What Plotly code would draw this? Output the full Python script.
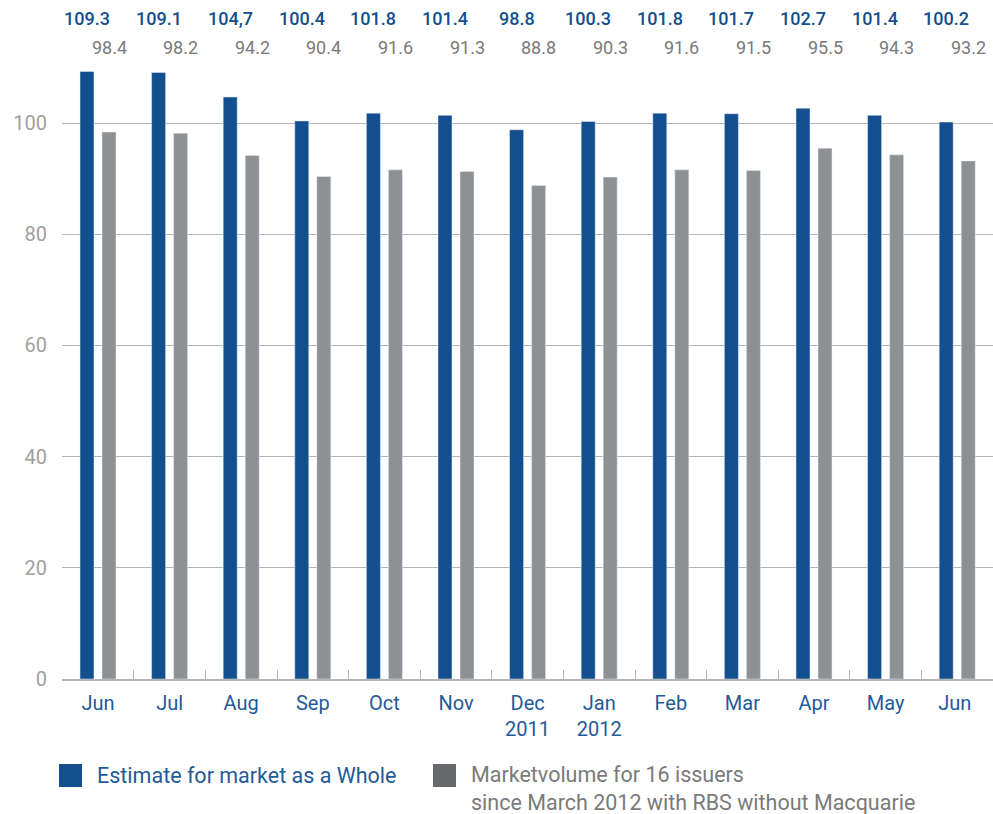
import plotly.graph_objects as go

months = ["Jun", "Jul", "Aug", "Sep", "Oct", "Nov", "Dec<br>2011", "Jan<br>2012",
          "Feb", "Mar", "Apr", "May", "Jun "]
market_whole = [109.3, 109.1, 104.7, 100.4, 101.8, 101.4, 98.8, 100.3, 101.8, 101.7, 102.7, 101.4, 100.2]
market_whole_labels = ["109.3", "109.1", "104,7", "100.4", "101.8", "101.4", "98.8", "100.3",
                       "101.8", "101.7", "102.7", "101.4", "100.2"]
issuers16 = [98.4, 98.2, 94.2, 90.4, 91.6, 91.3, 88.8, 90.3, 91.6, 91.5, 95.5, 94.3, 93.2]
y_ticks = [0, 20, 40, 60, 80, 100]

BLUE = "#134e8e"
GRAY = "#8f9094"
LEG_GRAY = "#67686c"
FONT = "Roboto"

fig = go.Figure()
fig.add_trace(go.Bar(x=months, y=market_whole, marker_color=BLUE, name="Estimate for market as a Whole"))
fig.add_trace(go.Bar(x=months, y=issuers16, marker_color=GRAY, name="Marketvolume for 16 issuers"))

ann = []
for m, v, lab in zip(months, market_whole, market_whole_labels):
    ann.append(dict(x=m, y=1.071, xref="x", yref="paper", text=lab, showarrow=False,
                    xshift=-11, yanchor="middle", xanchor="center",
                    font=dict(family=FONT, size=18, color=BLUE, weight=500)))
for m, v in zip(months, issuers16):
    ann.append(dict(x=m, y=1.0227, xref="x", yref="paper", text=f"{v:.1f}", showarrow=False,
                    xshift=11, yanchor="middle", xanchor="center",
                    font=dict(family=FONT, size=18, color="#7a7a7a")))

# legend (drawn manually for large swatches)
ann.append(dict(x=0.0354, y=-0.1556, xref="paper", yref="paper", text="Estimate for market as a Whole",
                showarrow=False, xanchor="left", yanchor="middle",
                font=dict(family=FONT, size=21.5, color="#1f5a9a")))
ann.append(dict(x=0.4372, y=-0.178, xref="paper", yref="paper", align="left",
                text="Marketvolume for 16 issuers<br>since March 2012 with RBS without Macquarie",
                showarrow=False, xanchor="left", yanchor="middle",
                font=dict(family=FONT, size=21.5, color="#7a7a7a")))

shapes = [
    dict(type="rect", xref="paper", yref="paper", x0=-0.0032, x1=0.0215, y0=-0.175, y1=-0.1378,
         fillcolor=BLUE, line=dict(width=0)),
    dict(type="rect", xref="paper", yref="paper", x0=0.3985, x1=0.4232, y0=-0.175, y1=-0.1378,
         fillcolor=LEG_GRAY, line=dict(width=0)),
]

fig.update_layout(
    width=993, height=814,
    margin=dict(l=62, r=0, t=62, b=135),
    paper_bgcolor="white", plot_bgcolor="white",
    barmode="group", bargap=0.385, bargroupgap=0.364,
    showlegend=False,
    annotations=ann, shapes=shapes,
    font=dict(family=FONT),
    xaxis=dict(type="category", showgrid=False, showline=True, linecolor="#b5b5b5", linewidth=2,
               ticks="inside", tickson="boundaries", ticklen=9, tickcolor="#b5b5b5", tickwidth=1,
               ticklabelstandoff=5,
               tickfont=dict(family=FONT, size=20, color="#1f5a9a")),
    yaxis=dict(range=[0, 111], tickvals=y_ticks, showgrid=True, gridcolor="#b5b5b5", gridwidth=1,
               zeroline=False, showline=False, ticks="", ticklabelstandoff=14,
               tickfont=dict(family=FONT, size=20, color="#a0a0a0")),
)

fig.write_html("out.html")
